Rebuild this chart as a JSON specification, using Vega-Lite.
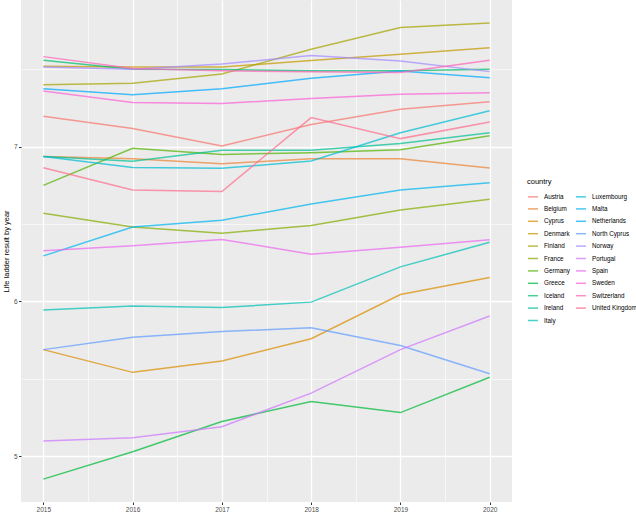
{
  "$schema": "https://vega.github.io/schema/vega-lite/v6.json",
  "width": 491,
  "height": 502,
  "autosize": {"type": "none"},
  "padding": {"left": 21, "top": 0, "right": 124, "bottom": 18},
  "background": "white",
  "config": {
    "view": {"fill": "#EBEBEB", "stroke": null},
    "font": "Liberation Sans"
  },
  "data": {
    "values": [
      {"country": "Austria", "year": 2015, "value": 7.197}, {"country": "Austria", "year": 2016, "value": 7.117}, {"country": "Austria", "year": 2017, "value": 7.004}, {"country": "Austria", "year": 2018, "value": 7.143}, {"country": "Austria", "year": 2019, "value": 7.242}, {"country": "Austria", "year": 2020, "value": 7.29},
      {"country": "Belgium", "year": 2015, "value": 6.937}, {"country": "Belgium", "year": 2016, "value": 6.922}, {"country": "Belgium", "year": 2017, "value": 6.89}, {"country": "Belgium", "year": 2018, "value": 6.922}, {"country": "Belgium", "year": 2019, "value": 6.922}, {"country": "Belgium", "year": 2020, "value": 6.862},
      {"country": "Cyprus", "year": 2015, "value": 5.688}, {"country": "Cyprus", "year": 2016, "value": 5.541}, {"country": "Cyprus", "year": 2017, "value": 5.615}, {"country": "Cyprus", "year": 2018, "value": 5.758}, {"country": "Cyprus", "year": 2019, "value": 6.044}, {"country": "Cyprus", "year": 2020, "value": 6.154},
      {"country": "Denmark", "year": 2015, "value": 7.52}, {"country": "Denmark", "year": 2016, "value": 7.515}, {"country": "Denmark", "year": 2017, "value": 7.515}, {"country": "Denmark", "year": 2018, "value": 7.557}, {"country": "Denmark", "year": 2019, "value": 7.597}, {"country": "Denmark", "year": 2020, "value": 7.64},
      {"country": "Finland", "year": 2015, "value": 7.40}, {"country": "Finland", "year": 2016, "value": 7.41}, {"country": "Finland", "year": 2017, "value": 7.47}, {"country": "Finland", "year": 2018, "value": 7.63}, {"country": "Finland", "year": 2019, "value": 7.77}, {"country": "Finland", "year": 2020, "value": 7.80},
      {"country": "France", "year": 2015, "value": 6.57}, {"country": "France", "year": 2016, "value": 6.48}, {"country": "France", "year": 2017, "value": 6.44}, {"country": "France", "year": 2018, "value": 6.49}, {"country": "France", "year": 2019, "value": 6.59}, {"country": "France", "year": 2020, "value": 6.66},
      {"country": "Germany", "year": 2015, "value": 6.75}, {"country": "Germany", "year": 2016, "value": 6.99}, {"country": "Germany", "year": 2017, "value": 6.95}, {"country": "Germany", "year": 2018, "value": 6.96}, {"country": "Germany", "year": 2019, "value": 6.98}, {"country": "Germany", "year": 2020, "value": 7.07},
      {"country": "Greece", "year": 2015, "value": 4.851}, {"country": "Greece", "year": 2016, "value": 5.028}, {"country": "Greece", "year": 2017, "value": 5.223}, {"country": "Greece", "year": 2018, "value": 5.353}, {"country": "Greece", "year": 2019, "value": 5.281}, {"country": "Greece", "year": 2020, "value": 5.509},
      {"country": "Iceland", "year": 2015, "value": 7.558}, {"country": "Iceland", "year": 2016, "value": 7.50}, {"country": "Iceland", "year": 2017, "value": 7.498}, {"country": "Iceland", "year": 2018, "value": 7.49}, {"country": "Iceland", "year": 2019, "value": 7.49}, {"country": "Iceland", "year": 2020, "value": 7.50},
      {"country": "Ireland", "year": 2015, "value": 6.937}, {"country": "Ireland", "year": 2016, "value": 6.905}, {"country": "Ireland", "year": 2017, "value": 6.976}, {"country": "Ireland", "year": 2018, "value": 6.976}, {"country": "Ireland", "year": 2019, "value": 7.02}, {"country": "Ireland", "year": 2020, "value": 7.09},
      {"country": "Italy", "year": 2015, "value": 5.944}, {"country": "Italy", "year": 2016, "value": 5.97}, {"country": "Italy", "year": 2017, "value": 5.961}, {"country": "Italy", "year": 2018, "value": 5.995}, {"country": "Italy", "year": 2019, "value": 6.223}, {"country": "Italy", "year": 2020, "value": 6.382},
      {"country": "Luxembourg", "year": 2015, "value": 6.937}, {"country": "Luxembourg", "year": 2016, "value": 6.866}, {"country": "Luxembourg", "year": 2017, "value": 6.86}, {"country": "Luxembourg", "year": 2018, "value": 6.907}, {"country": "Luxembourg", "year": 2019, "value": 7.09}, {"country": "Luxembourg", "year": 2020, "value": 7.232},
      {"country": "Malta", "year": 2015, "value": 6.294}, {"country": "Malta", "year": 2016, "value": 6.48}, {"country": "Malta", "year": 2017, "value": 6.524}, {"country": "Malta", "year": 2018, "value": 6.63}, {"country": "Malta", "year": 2019, "value": 6.72}, {"country": "Malta", "year": 2020, "value": 6.766},
      {"country": "Netherlands", "year": 2015, "value": 7.375}, {"country": "Netherlands", "year": 2016, "value": 7.336}, {"country": "Netherlands", "year": 2017, "value": 7.375}, {"country": "Netherlands", "year": 2018, "value": 7.442}, {"country": "Netherlands", "year": 2019, "value": 7.489}, {"country": "Netherlands", "year": 2020, "value": 7.446},
      {"country": "North Cyprus", "year": 2015, "value": 5.688}, {"country": "North Cyprus", "year": 2016, "value": 5.768}, {"country": "North Cyprus", "year": 2017, "value": 5.805}, {"country": "North Cyprus", "year": 2018, "value": 5.829}, {"country": "North Cyprus", "year": 2019, "value": 5.714}, {"country": "North Cyprus", "year": 2020, "value": 5.532},
      {"country": "Norway", "year": 2015, "value": 7.515}, {"country": "Norway", "year": 2016, "value": 7.50}, {"country": "Norway", "year": 2017, "value": 7.534}, {"country": "Norway", "year": 2018, "value": 7.589}, {"country": "Norway", "year": 2019, "value": 7.554}, {"country": "Norway", "year": 2020, "value": 7.485},
      {"country": "Portugal", "year": 2015, "value": 5.097}, {"country": "Portugal", "year": 2016, "value": 5.119}, {"country": "Portugal", "year": 2017, "value": 5.19}, {"country": "Portugal", "year": 2018, "value": 5.407}, {"country": "Portugal", "year": 2019, "value": 5.688}, {"country": "Portugal", "year": 2020, "value": 5.905},
      {"country": "Spain", "year": 2015, "value": 6.327}, {"country": "Spain", "year": 2016, "value": 6.36}, {"country": "Spain", "year": 2017, "value": 6.40}, {"country": "Spain", "year": 2018, "value": 6.305}, {"country": "Spain", "year": 2019, "value": 6.349}, {"country": "Spain", "year": 2020, "value": 6.398},
      {"country": "Sweden", "year": 2015, "value": 7.36}, {"country": "Sweden", "year": 2016, "value": 7.286}, {"country": "Sweden", "year": 2017, "value": 7.279}, {"country": "Sweden", "year": 2018, "value": 7.312}, {"country": "Sweden", "year": 2019, "value": 7.338}, {"country": "Sweden", "year": 2020, "value": 7.349},
      {"country": "Switzerland", "year": 2015, "value": 7.582}, {"country": "Switzerland", "year": 2016, "value": 7.506}, {"country": "Switzerland", "year": 2017, "value": 7.49}, {"country": "Switzerland", "year": 2018, "value": 7.485}, {"country": "Switzerland", "year": 2019, "value": 7.48}, {"country": "Switzerland", "year": 2020, "value": 7.558},
      {"country": "United Kingdom", "year": 2015, "value": 6.864}, {"country": "United Kingdom", "year": 2016, "value": 6.72}, {"country": "United Kingdom", "year": 2017, "value": 6.71}, {"country": "United Kingdom", "year": 2018, "value": 7.188}, {"country": "United Kingdom", "year": 2019, "value": 7.052}, {"country": "United Kingdom", "year": 2020, "value": 7.16}
    ]
  },
  "mark": {"type": "line", "strokeWidth": 1.5, "opacity": 0.72},
  "encoding": {
    "x": {
      "field": "year", "type": "quantitative",
      "scale": {"domain": [2014.75, 2020.25], "nice": false, "zero": false},
      "axis": {
        "title": null,
        "values": [2015, 2015.5, 2016, 2016.5, 2017, 2017.5, 2018, 2018.5, 2019, 2019.5, 2020],
        "labelExpr": "datum.value % 1 === 0 ? format(datum.value, 'd') : ''",
        "grid": true,
        "gridColor": "white",
        "gridWidth": {"condition": {"test": "datum.value % 1 === 0", "value": 1.3}, "value": 0.6},
        "domain": false,
        "tickColor": "#333333",
        "tickOpacity": {"condition": {"test": "datum.value % 1 === 0", "value": 1}, "value": 0},
        "tickSize": 2.5,
        "labelPadding": 1.5,
        "labelFontSize": 6.5,
        "labelColor": "#4D4D4D",
        "labelFlush": false,
        "labelOverlap": false
      }
    },
    "y": {
      "field": "value", "type": "quantitative",
      "scale": {"domain": [4.703, 7.948], "nice": false, "zero": false},
      "axis": {
        "title": "Life ladder result by year",
        "titleFontSize": 7.5,
        "titleFontWeight": "normal",
        "titleColor": "black",
        "titlePadding": 3,
        "values": [5, 5.5, 6, 6.5, 7, 7.5],
        "labelExpr": "datum.value % 1 === 0 ? format(datum.value, 'd') : ''",
        "grid": true,
        "gridColor": "white",
        "gridWidth": {"condition": {"test": "datum.value % 1 === 0", "value": 1.3}, "value": 0.6},
        "domain": false,
        "tickColor": "#333333",
        "tickOpacity": {"condition": {"test": "datum.value % 1 === 0", "value": 1}, "value": 0},
        "tickSize": 2.5,
        "labelPadding": 1.5,
        "labelFontSize": 6.5,
        "labelColor": "#4D4D4D",
        "labelOverlap": false
      }
    },
    "color": {
      "field": "country", "type": "nominal",
      "scale": {
        "domain": ["Austria", "Belgium", "Cyprus", "Denmark", "Finland", "France", "Germany", "Greece", "Iceland", "Ireland", "Italy", "Luxembourg", "Malta", "Netherlands", "North Cyprus", "Norway", "Portugal", "Spain", "Sweden", "Switzerland", "United Kingdom"],
        "range": ["#F8766D", "#EB8335", "#D98F00", "#C39A00", "#A8A400", "#85AD00", "#53B400", "#00BA38", "#00BE6C", "#00C094", "#00C0B5", "#00BDD2", "#00B5EE", "#00A9FF", "#619CFF", "#A58AFF", "#CF78FD", "#EB69F0", "#FB61D7", "#FF63B9", "#FE6D8E"]
      },
      "legend": {
        "title": "country",
        "titleFontSize": 7.5,
        "titleFontWeight": "normal",
        "titleColor": "black",
        "titlePadding": 5,
        "orient": "none",
        "legendX": 506,
        "legendY": 178,
        "columns": 2,
        "columnPadding": 3,
        "rowPadding": 2.4,
        "symbolType": "stroke",
        "symbolSize": 100,
        "symbolStrokeWidth": 1.5,
        "symbolOpacity": 0.72,
        "labelFontSize": 6.3,
        "labelColor": "black",
        "labelOffset": 5,
        "padding": 0
      }
    }
  }
}
